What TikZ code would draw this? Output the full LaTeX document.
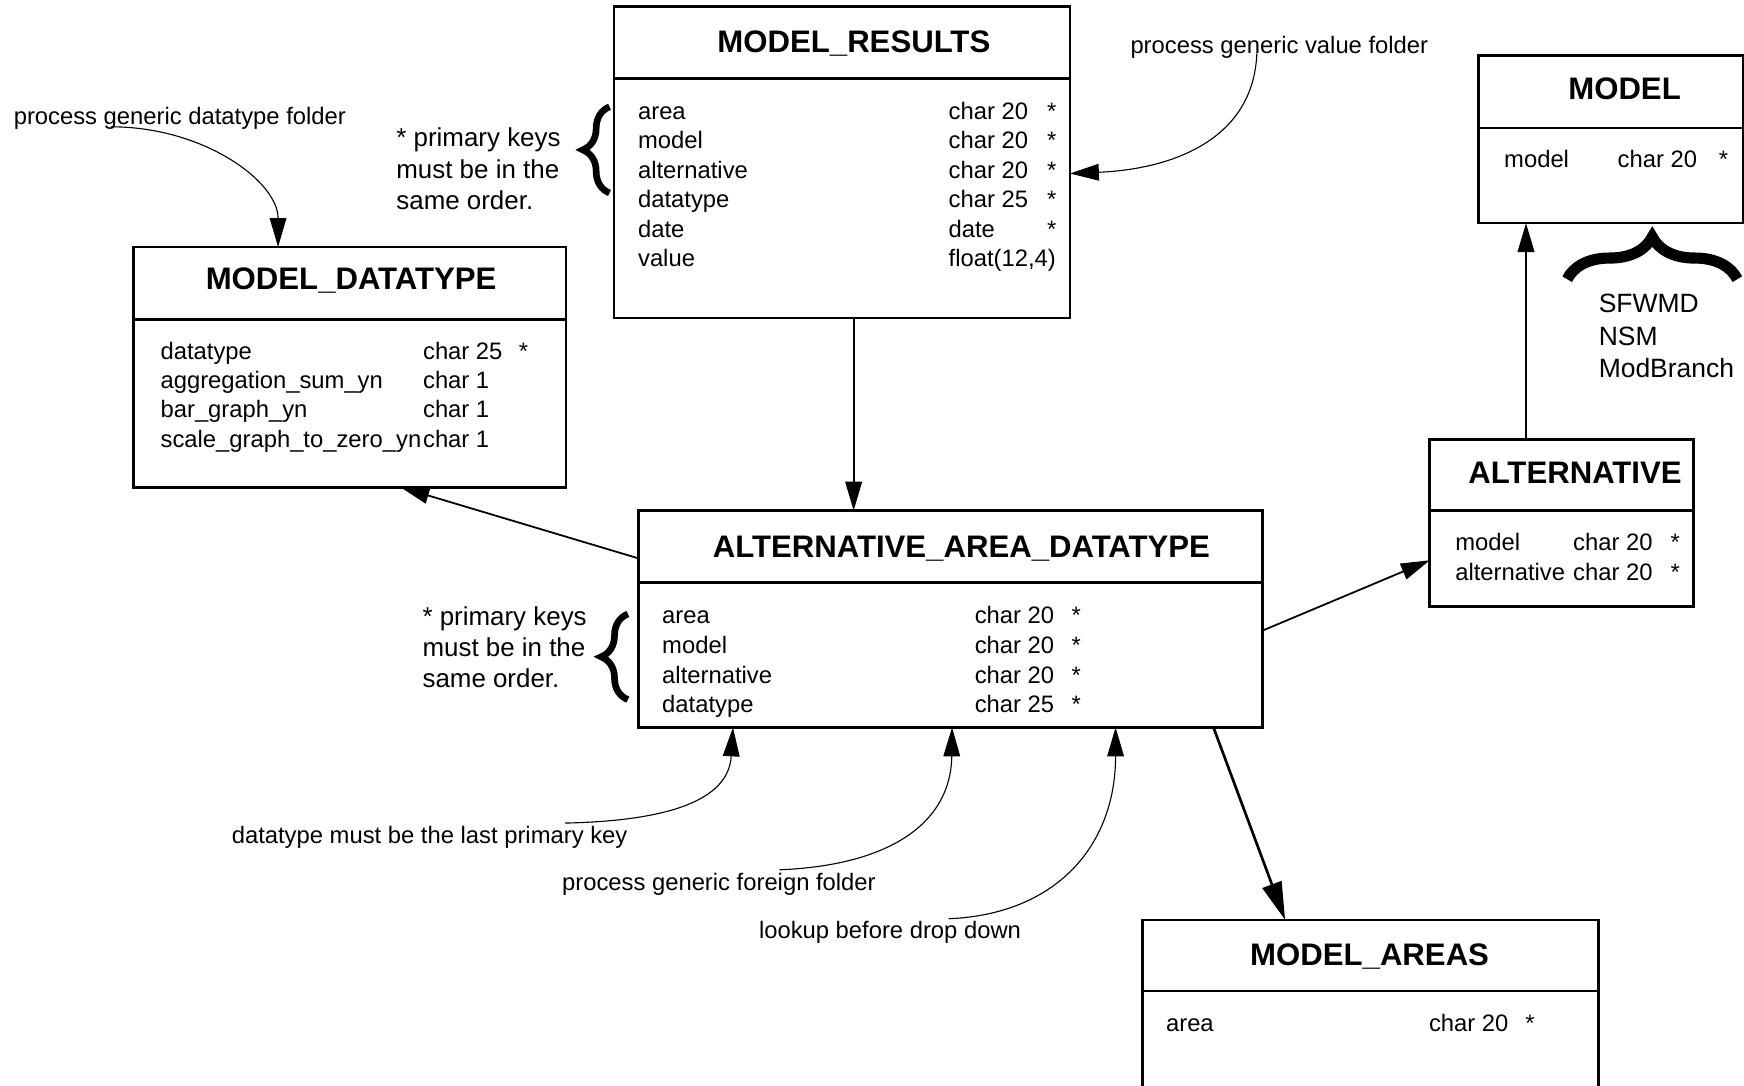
\documentclass[tikz,border=0pt]{standalone}
\usepackage{fontspec}
\setmainfont{Liberation Sans}
\usetikzlibrary{arrows.meta,decorations.pathreplacing}

\begin{document}
\begin{tikzpicture}[x=0.5pt,y=-0.5pt,>={Triangle[length=13pt,width=7.5pt]},
		tbl/.style={draw,line width=1.2pt,inner sep=0pt,outer sep=0pt,anchor=north west},
		ttl/.style={font=\fontsize{14}{17}\selectfont\bfseries,inner sep=0pt,anchor=base},
		fld/.style={font=\fontsize{10.7}{13}\selectfont,inner sep=0pt,anchor=base west},
		pknote/.style={font=\fontsize{11.65}{14}\selectfont,inner sep=0pt,anchor=base west},
		lnk/.style={->,line width=0.8pt},
		rmk/.style={->,line width=0.5pt},
		curly/.style={decorate,decoration={brace,amplitude=#1},line width=3pt}]
		\useasboundingbox (0,0) rectangle (1568,976);
		\clip (0,0) rectangle (1568,976);
		% tables
		\foreach \nm/\xx/\yy/\ww/\hh/\dd in {results/552/6/205/140/32.25, dtype/120/222/194.5/108/32.5, aad/574/459/280.5/97.5/32.25, model/1329/50/119/75.3/32.5, alt/1285.5/395/118.5/75.25/32, areas/1027/827/205/100/32}{
			\node[tbl,minimum width=\ww pt,minimum height=\hh pt] (\nm) at (\xx,\yy) {};
			\draw[line width=1.2pt] ([yshift=-\dd pt]\nm.north west) -- ([yshift=-\dd pt]\nm.north east);
		}
		\node[ttl] (results-name) at (767.7,47) {MODEL\_RESULTS};
		\node[ttl] (dtype-name) at (315.7,260.7) {MODEL\_DATATYPE};
		\node[ttl] (aad-name) at (864.4,501) {ALTERNATIVE\_AREA\_DATATYPE};
		\node[ttl] (model-name) at (1460.6,89.3) {MODEL};
		\node[ttl] (alt-name) at (1416,434.6) {ALTERNATIVE};
		\node[ttl] (areas-name) at (1231.4,867.7) {MODEL\_AREAS};
		% fields
		\foreach \fa/\ty/\pk [count=\i] in {area/char 20/*, model/char 20/*, alternative/char 20/*, datatype/char 25/*, date/date/*, value/{float(12,4)}/{}}{
			\node[fld] (results-f\i) at (573.3,{107.5+26.4*(\i-1)}) {\fa};
			\node[fld] (results-t\i) at (852.5,{107.5+26.4*(\i-1)}) {\ty};
			\node[fld] (results-k\i) at (941,{107.5+26.4*(\i-1)}) {\pk};
		}
		\foreach \fa/\ty/\pk [count=\i] in {datatype/char 25/*, aggregation\_sum\_yn/char 1/{}, bar\_graph\_yn/char 1/{}, scale\_graph\_to\_zero\_yn/char 1/{}}{
			\node[fld] (dtype-f\i) at (144,{323+26.4*(\i-1)}) {\fa};
			\node[fld] (dtype-t\i) at (380,{323+26.4*(\i-1)}) {\ty};
			\node[fld] (dtype-k\i) at (466,{323+26.4*(\i-1)}) {\pk};
		}
		\foreach \fa/\ty [count=\i] in {area/char 20, model/char 20, alternative/char 20, datatype/char 25}{
			\node[fld] (aad-f\i) at (595,{561+26.6*(\i-1)}) {\fa};
			\node[fld] (aad-t\i) at (876,{561+26.6*(\i-1)}) {\ty};
			\node[fld] (aad-k\i) at (963,{561+26.6*(\i-1)}) {*};
		}
		\node[fld] (model-f1) at (1352,150.7) {model};
		\node[fld] (model-t1) at (1454,150.7) {char 20};
		\node[fld] (model-k1) at (1545,150.7) {*};
		\foreach \fa [count=\i] in {model,alternative}{
			\node[fld] (alt-f\i) at (1308,{495+26.5*(\i-1)}) {\fa};
			\node[fld] (alt-t\i) at (1414,{495+26.5*(\i-1)}) {char 20};
			\node[fld] (alt-k\i) at (1501.5,{495+26.5*(\i-1)}) {*};
		}
		\node[fld] (areas-f1) at (1048,927.6) {area};
		\node[fld] (areas-t1) at (1284.4,927.6) {char 20};
		\node[fld] (areas-k1) at (1371,927.6) {*};
		% notes and braces
		\foreach \ln [count=\i] in {* primary keys, must be in the, same order.}{
			\node[pknote] (keys-a\i) at (356,{131.5+28.6*(\i-1)}) {\ln};
			\node[pknote] (keys-b\i) at (379.5,{562.5+28*(\i-1)}) {\ln};
		}
		\draw[curly=12pt] (548,173.5) -- (548,96);
		\draw[curly=12pt] (564.5,629) -- (564.5,552);
		\draw[curly=19pt,line width=5pt] (1409,251) -- (1562,251);
		\foreach \ln [count=\i] in {SFWMD, NSM, ModBranch}{
			\node[pknote,font=\fontsize{11.9}{14}\selectfont] (models-\i) at (1437,{281+29.3*(\i-1)}) {\ln};
		}
		% remarks
		\node[fld] (valnote) at (1016,48.5) {process generic value folder};
		\node[fld] (dtnote) at (12,111.9) {process generic datatype folder};
		\node[fld] (lastnote) at (208,758) {datatype must be the last primary key};
		\node[fld] (foreignnote) at (505,801) {process generic foreign folder};
		\node[fld] (lookupnote) at (682,844) {lookup before drop down};
		\coordinate (valfrom) at (1130,48);
		\coordinate (dtfrom) at (100,114);
		\coordinate (lastfrom) at (508,740);
		\coordinate (foreignfrom) at (701,782);
		\coordinate (lookupfrom) at (853,826);
		\draw[rmk] (valfrom) .. controls (1127,125) and (1055,152) .. ([yshift=-5pt]results.east);
		\draw[rmk] (dtfrom) .. controls (183,114) and (250,163) .. ([xshift=-32.25pt]dtype.north);
		\draw[rmk] (lastfrom) .. controls (600,738) and (655,720) .. ([xshift=-97.75pt]aad.south);
		\draw[rmk] (foreignfrom) .. controls (800,778) and (855,740) .. ([xshift=0.75pt]aad.south);
		\draw[rmk] (lookupfrom) .. controls (950,822) and (1003,760) .. ([xshift=74.25pt]aad.south);
		% links
		\draw[lnk] ([xshift=5.25pt]results.south) -- ([xshift=5.25pt]results.south |- aad.north);
		\draw[lnk] ([yshift=27.25pt]aad.west) -- ([xshift=22.75pt]dtype.south);
		\draw[lnk] ([yshift=-5.25pt]aad.east) -- ([yshift=-16.75pt]alt.west);
		\draw[lnk] ([xshift=-16pt]alt.north) -- ([xshift=-16pt]alt.north |- model.south);
		\draw[lnk,line width=1.2pt,-{Triangle[length=17pt,width=9pt]}] ([xshift=118.25pt]aad.south) -- ([xshift=-38.3pt]areas.north);
\end{tikzpicture}
\end{document}
